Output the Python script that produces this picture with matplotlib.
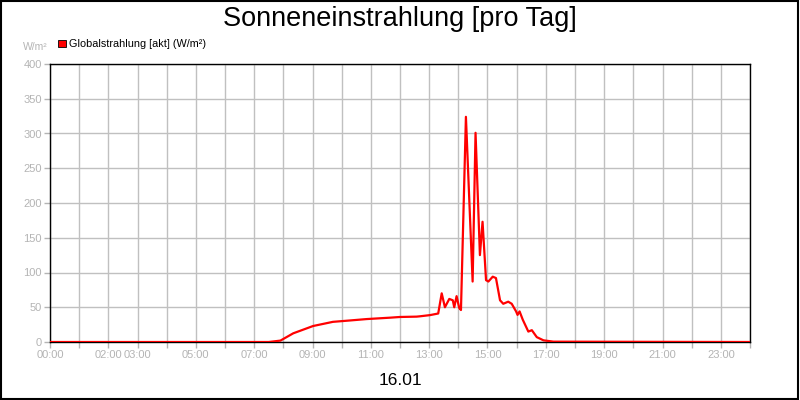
import matplotlib
matplotlib.use('Agg')
import matplotlib.pyplot as plt
from matplotlib.patches import Rectangle

plt.rcParams['font.family'] = ['Liberation Sans', 'DejaVu Sans']

# Globalstrahlung (W/m²) over the day
hours = [0.0, 7.5, 7.9, 8.34, 9.02, 9.7, 10.29, 10.86, 11.66, 12.0, 12.57,
         12.69, 13.03, 13.31, 13.43, 13.54, 13.69, 13.81, 13.86, 13.94,
         14.03, 14.09, 14.26, 14.38, 14.49, 14.59, 14.74, 14.83, 14.95,
         15.03, 15.18, 15.29, 15.43, 15.54, 15.71, 15.83, 15.98, 16.03,
         16.1, 16.21, 16.4, 16.52, 16.69, 16.92, 17.26, 24.0]
radiation = [0, 0, 2, 12.5, 23, 29, 31, 33, 35, 36, 36.5,
             37, 38.7, 41, 70, 50, 62, 60, 50, 66,
             49, 46, 324, 200, 87, 301, 125, 173, 89,
             87, 94, 92, 60, 55, 58, 55, 44, 39,
             44, 32, 15, 17, 7, 2.4, 0.5, 0]

tick_hours = list(range(0, 25))
tick_labels = ['00:00', '', '02:00', '03:00', '', '05:00', '', '07:00', '',
               '09:00', '', '11:00', '', '13:00', '', '15:00', '', '17:00',
               '', '19:00', '', '21:00', '', '23:00', '']
y_ticks = [0, 50, 100, 150, 200, 250, 300, 350, 400]

grey = '#b4b4b4'

fig = plt.figure(figsize=(8, 4), dpi=100)
fig.patch.set_facecolor('white')
ax = fig.add_axes([0.0625, 0.145, 0.875, 0.695])

ax.plot(hours, radiation, color='#ff0000', lw=1.6, zorder=3)

ax.set_xlim(0, 24)
ax.set_ylim(0, 400)
ax.set_xticks(tick_hours)
ax.set_xticklabels(tick_labels)
ax.set_yticks(y_ticks)
ax.grid(True, color='#c0c0c0', lw=1)
ax.set_axisbelow(True)
ax.tick_params(colors=grey, labelsize=8, length=4, width=1, pad=2)
for sp in ax.spines.values():
    sp.set_color('black')
    sp.set_linewidth(1)

fig.text(0.5, 0.952, 'Sonneneinstrahlung [pro Tag]', ha='center', va='center',
         fontsize=19.5)
fig.text(0.5, 0.048, '16.01', ha='center', va='center', fontsize=12.5)
fig.text(0.029, 0.883, 'W/m²', ha='left', va='center', fontsize=7.5, color=grey)

# legend
fig.patches.append(Rectangle((0.0725, 0.8825), 0.0095, 0.0175,
                             transform=fig.transFigure, facecolor='#ff0000',
                             edgecolor='black', lw=0.6))
fig.text(0.0865, 0.889, 'Globalstrahlung [akt] (W/m²)', ha='left',
         va='center', fontsize=7.8)

# frame around the whole image
fig.patches.append(Rectangle((0.001, 0.002), 0.997, 0.996,
                             transform=fig.transFigure, fill=False,
                             edgecolor='black', lw=1.5))

fig.savefig('out.png', dpi=100)
